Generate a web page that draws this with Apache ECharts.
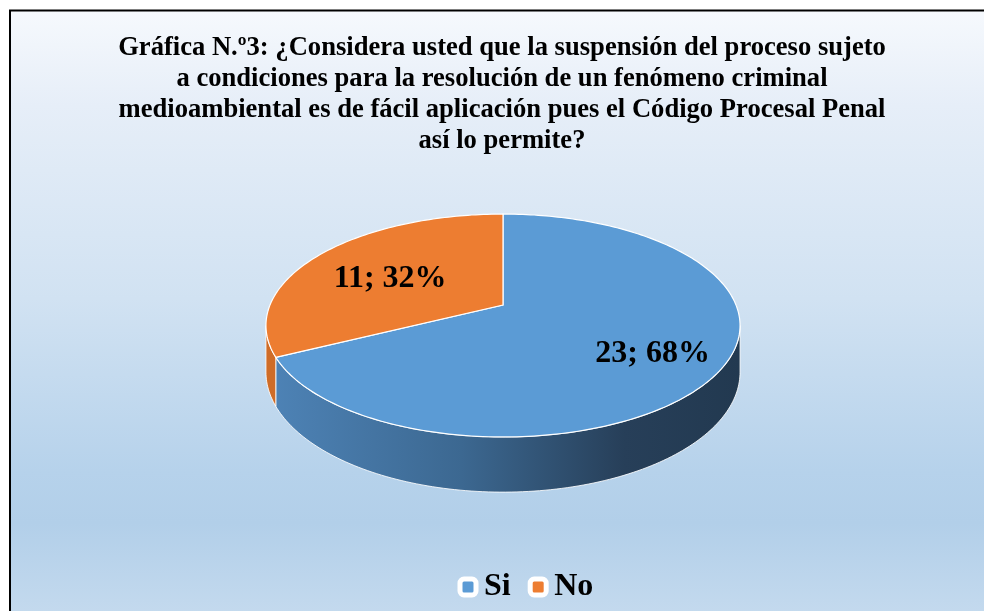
<!DOCTYPE html>
<html lang="es">
<head>
<meta charset="UTF-8">
<title>Gráfica N.º3</title>
<style>
  html, body { margin: 0; padding: 0; background: #fff; }
  #chart { width: 984px; height: 611px; }
</style>
</head>
<body>
<div id="chart"></div>
<script src="https://cdn.jsdelivr.net/npm/echarts@6/dist/echarts.min.js"></script>
<script>
// datos de la encuesta
var categories = ['Si', 'No'];
var values = [23, 11];

var topColors = ['#5b9bd5', '#ed7d31'];
var sideColors = [
    { type: 'linear', x: 0, y: 0, x2: 1, y2: 0, colorStops: [
        { offset: 0, color: '#4d82b5' }, { offset: 0.4, color: '#3c6891' },
        { offset: 0.75, color: '#273f59' }, { offset: 1, color: '#223950' }] },
    '#cf6c27'
];

// "3D" pie: disco inclinado con algo de perspectiva
var cx = 503, cy = 305, R = 233, kv = 0.4622, persp = 0.184, depth = 45;
var serif = '"Liberation Serif", "Times New Roman", serif';

function proj(theta, r, drop) {
    var s = Math.sin(theta), c = Math.cos(theta);
    var f = 1 / (1 + persp * r * c);
    return [cx + r * R * s * f, cy - r * R * kv * c * f + drop * f];
}

function arcPts(a0, a1, drop) {
    var pts = [];
    var n = Math.max(2, Math.ceil((a1 - a0) / 0.02));
    for (var i = 0; i <= n; i++) {
        pts.push(proj(a0 + (a1 - a0) * i / n, 1, drop));
    }
    return pts;
}

function sliceSeries(idx) {
    return {
        name: categories[idx],
        type: 'custom',
        coordinateSystem: 'none',
        itemStyle: { color: topColors[idx] },
        data: [values[idx]],
        renderItem: function (params, api) {
            var total = 0, before = 0;
            for (var j = 0; j < values.length; j++) {
                total += values[j];
                if (j < idx) before += values[j];
            }
            var v = api.value(0);
            var a0 = before / total * 2 * Math.PI;
            var a1 = (before + v) / total * 2 * Math.PI;
            var children = [];

            // pared lateral visible (frente)
            var vis0 = Math.PI - Math.acos(persp), vis1 = Math.PI + Math.acos(persp);
            var s = Math.max(a0, vis0), e = Math.min(a1, vis1);
            if (e > s) {
                var topRim = arcPts(s, e, 0);
                var botRim = arcPts(s, e, depth).reverse();
                children.push({
                    type: 'polygon',
                    z2: 1,
                    shape: { points: topRim.concat(botRim) },
                    style: { fill: sideColors[idx], stroke: 'rgba(255,255,255,0.85)', lineWidth: 1 }
                });
            }

            // cara superior
            var pts = [[cx, cy]].concat(arcPts(a0, a1, 0));
            children.push({
                type: 'polygon',
                z2: 10,
                shape: { points: pts },
                style: { fill: topColors[idx], stroke: '#fff', lineWidth: 1.2 }
            });

            // etiqueta "valor; porcentaje"
            var mid = (a0 + a1) / 2;
            var lp = proj(mid, 0.66, 0);
            children.push({
                type: 'text',
                z2: 20,
                style: {
                    x: lp[0] + 10, y: lp[1] + 9,
                    text: v + '; ' + Math.round(v / total * 100) + '%',
                    align: 'center', verticalAlign: 'middle',
                    font: 'bold 32px ' + serif,
                    fill: '#000'
                }
            });
            return { type: 'group', children: children };
        }
    };
}

var chart = echarts.init(document.getElementById('chart'));
chart.setOption({
    animation: false,
    graphic: [{
        type: 'rect',
        z: -10,
        silent: true,
        shape: { x: 10, y: 10.5, width: 1000, height: 640 },
        style: {
            fill: { type: 'linear', x: 0, y: 0, x2: 0, y2: 1, colorStops: [
                { offset: 0, color: '#f6f9fd' }, { offset: 0.15, color: '#e6eef8' },
                { offset: 0.45, color: '#d1e2f2' }, { offset: 0.72, color: '#b6d2eb' },
                { offset: 0.8, color: '#b2cfe9' }, { offset: 1, color: '#cbdef0' }] },
            stroke: '#000',
            lineWidth: 2
        }
    }],
    title: {
        text: 'Gráfica N.º3: ¿Considera usted que la suspensión del proceso sujeto\n' +
              'a condiciones para la resolución de un fenómeno criminal\n' +
              'medioambiental es de fácil aplicación pues el Código Procesal Penal\n' +
              'así lo permite?',
        left: 497,
        top: 28,
        textAlign: 'center',
        textStyle: { fontFamily: serif, fontWeight: 'bold', fontSize: 26.6, lineHeight: 31, color: '#000' }
    },
    legend: {
        data: categories,
        left: 452.5,
        top: 566,
        icon: 'roundRect',
        itemWidth: 16,
        itemHeight: 16,
        itemGap: 17,
        itemStyle: { borderColor: '#fff', borderWidth: 5 },
        textStyle: { fontFamily: serif, fontWeight: 'bold', fontSize: 32, color: '#000', padding: [0, 0, 0, 3] }
    },
    series: [sliceSeries(0), sliceSeries(1)]
});
</script>
</body>
</html>
